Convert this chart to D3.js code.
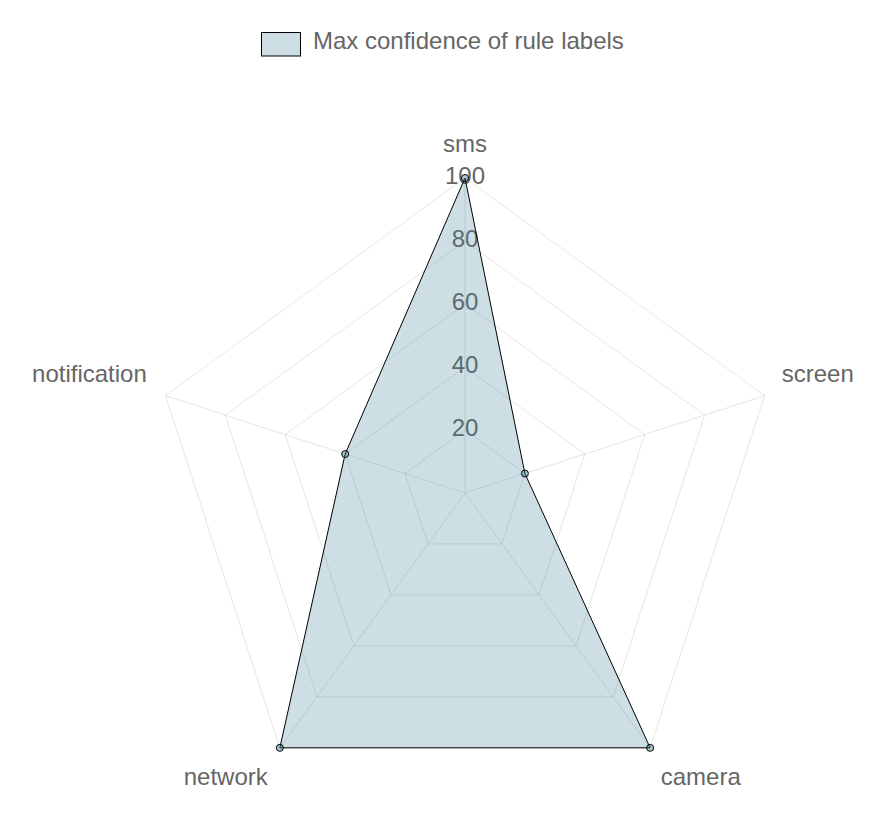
<!DOCTYPE html>
<html>
<head>
<meta charset="utf-8">
<script src="https://cdn.jsdelivr.net/npm/d3@7"></script>
<style>
  html, body { margin: 0; padding: 0; background: #fff; }
  svg { display: block; }
  text { font-family: "Helvetica Neue", Helvetica, Arial, "Liberation Sans", sans-serif; }
</style>
</head>
<body>
<svg id="chart" width="887" height="816"></svg>
<script>
const categories = ["sms", "screen", "camera", "network", "notification"];
const values = [100, 20, 100, 100, 40];
const tickValues = [20, 40, 60, 80, 100];
const seriesName = "Max confidence of rule labels";

const W = 887, H = 816;
const cx = 465, cy = 493, R = 315;
const svg = d3.select("#chart");

const r = d3.scaleLinear().domain([0, 100]).range([0, R]);
const angle = d3.scaleBand().domain(categories).range([0, 2 * Math.PI]).paddingInner(0).paddingOuter(0);
const ang = c => angle(c) - Math.PI / 2; // start at top, clockwise
const pt = (c, v) => [cx + r(v) * Math.cos(ang(c)), cy + r(v) * Math.sin(ang(c))];

const gridColor = "rgba(0,0,0,0.1)";
const textColor = "#666";
const fontSize = 24;

// grid polygons
const grid = svg.append("g");
tickValues.forEach(t => {
  const pts = categories.map(c => pt(c, t));
  grid.append("polygon")
    .attr("points", pts.map(p => p.join(",")).join(" "))
    .attr("fill", "none")
    .attr("stroke", gridColor)
    .attr("stroke-width", 1);
});
// angle lines
categories.forEach(c => {
  const p = pt(c, 100);
  grid.append("line")
    .attr("x1", cx).attr("y1", cy)
    .attr("x2", p[0]).attr("y2", p[1])
    .attr("stroke", gridColor).attr("stroke-width", 1);
});

// tick labels
svg.append("g").selectAll("text").data(tickValues).join("text")
  .attr("x", cx)
  .attr("y", d => cy - r(d) - 2.5)
  .attr("text-anchor", "middle")
  .attr("dominant-baseline", "central")
  .attr("font-size", fontSize)
  .attr("fill", textColor)
  .text(d => d);

// point labels
const labelR = R + 18;
svg.append("g").selectAll("text").data(categories).join("text")
  .each(function(c) {
    const a = ang(c);
    let x = cx + labelR * Math.cos(a);
    const y = cy + labelR * Math.sin(a);
    const deg = (angle(c) * 180 / Math.PI) % 360;
    let anchor = "middle";
    if (Math.abs(deg) < 1 || Math.abs(deg - 180) < 1) anchor = "middle";
    else if (deg < 180) anchor = "start";
    else { anchor = "end"; x -= 1.5; }
    let by;
    if (deg < 90 || deg > 270) by = y - 8;
    else by = y + 23;
    d3.select(this)
      .attr("x", x).attr("y", by)
      .attr("text-anchor", anchor)
      .attr("font-size", fontSize)
      .attr("fill", textColor)
      .text(c);
  });

// dataset
const fillColor = "rgba(55,123,147,0.25)";
const lineGen = d3.lineRadial()
  .angle(d => angle(d.c))
  .radius(d => r(d.v))
  .curve(d3.curveLinearClosed);
const data = categories.map((c, i) => ({ c, v: values[i] }));
svg.append("path")
  .attr("transform", `translate(${cx},${cy})`)
  .attr("d", lineGen(data))
  .attr("fill", fillColor)
  .attr("stroke", "#000")
  .attr("stroke-width", 1);
svg.append("g").selectAll("circle").data(data).join("circle")
  .attr("cx", d => pt(d.c, d.v)[0])
  .attr("cy", d => pt(d.c, d.v)[1])
  .attr("r", 3.5)
  .attr("fill", "rgba(55,123,147,0.4)")
  .attr("stroke", "#000")
  .attr("stroke-width", 1);

// legend
const lg = svg.append("g");
lg.append("rect")
  .attr("x", 261.5).attr("y", 32.5)
  .attr("width", 39).attr("height", 23.5)
  .attr("fill", fillColor)
  .attr("stroke", "#000")
  .attr("stroke-width", 1);
lg.append("text")
  .attr("x", 313).attr("y", 49)
  .attr("font-size", fontSize)
  .attr("fill", textColor)
  .text(seriesName);
</script>
</body>
</html>
